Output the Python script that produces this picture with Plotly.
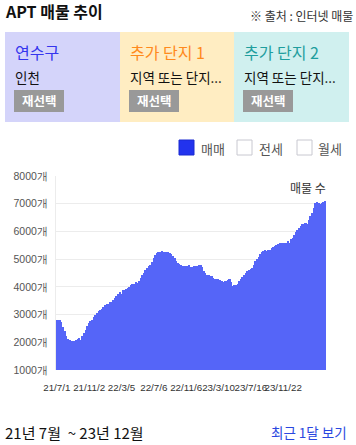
import plotly.graph_objects as go

W, H = 356, 445

values = [
    2820, 2820, 2790, 2715, 2560, 2390, 2220, 2130, 2070, 2050,
    2050, 2060, 2090, 2120, 2140, 2090, 2220, 2340, 2440, 2570,
    2690, 2775, 2795, 2895, 2995, 3055, 3115, 3150, 3185, 3260,
    3330, 3370, 3395, 3450, 3450, 3520, 3600, 3665, 3750, 3810,
    3760, 3870, 3900, 3930, 3960, 4010, 4055, 4090, 4120, 4170,
    4140, 4220, 4335, 4420, 4510, 4620, 4690, 4745, 4805, 4905,
    5025, 5140, 5220, 5250, 5265, 5285, 5270, 5265, 5265, 5240,
    5225, 5180, 5115, 5030, 4925, 4870, 4840, 4805, 4770, 4760,
    4760, 4765, 4785, 4725, 4700, 4755, 4760, 4770, 4785, 4800,
    4710, 4585, 4505, 4440, 4410, 4395, 4375, 4335, 4285, 4285,
    4270, 4250, 4225, 4190, 4205, 4215, 4250, 4300, 4190, 4030,
    4065, 4050, 4120, 4215, 4300, 4360, 4440, 4510, 4585, 4615,
    4660, 4685, 4790, 4940, 5020, 5090, 5170, 5250, 5285, 5315,
    5305, 5345, 5335, 5395, 5430, 5460, 5510, 5550, 5570, 5570,
    5570, 5570, 5570, 5640, 5600, 5720, 5760, 5860, 5975, 6060,
    6110, 6205, 6285, 6285, 6310, 6255, 6430, 6545, 6680, 6830,
    7030, 7070, 7010, 7000, 7040, 7080, 7110,
]
tick_labels = ["21/7/1", "21/11/2", "22/3/5", "22/7/6", "22/11/6",
               "23/3/10", "23/7/16", "23/11/22"]
tick_step = 20
y_ticks = [1000, 2000, 3000, 4000, 5000, 6000, 7000, 8000]
y_tick_labels = [f"{v}개" for v in y_ticks]

panel_titles = ["연수구", "추가 단지 1", "추가 단지 2"]
panel_subs = ["인천", "지역 또는 단지...", "지역 또는 단지..."]
panel_colors = ["#d4d4fa", "#ffedc2", "#d0f0ef"]
panel_title_colors = ["#3535ee", "#ff8a1c", "#1f9e9e"]
legend_labels = ["매매", "전세", "월세"]

FONT = "Noto Sans CJK KR, Noto Sans, sans-serif"
LAT = "Liberation Sans, Arial, sans-serif"
BAR = "#5565f8"

def px(x):
    return x / W

def py(y):
    return 1 - y / H

x_idx = list(range(len(values)))

fig = go.Figure(go.Bar(x=x_idx, y=values, marker=dict(color=BAR, line=dict(width=0)),
                       hoverinfo="skip"))

plot_l, plot_r, plot_t, plot_b = 56, 326, 176, 370

fig.update_layout(
    width=W, height=H,
    margin=dict(l=0, r=0, t=0, b=0, pad=0, autoexpand=False),
    paper_bgcolor="white", plot_bgcolor="white",
    showlegend=False, bargap=0,
    font=dict(family=FONT, color="#333"),
    xaxis=dict(domain=[px(plot_l), px(plot_r)], range=[-0.5, len(values) - 0.5],
               tickvals=[i * tick_step for i in range(len(tick_labels))],
               ticktext=tick_labels, showgrid=False, zeroline=False, tickangle=0,
               automargin=False,
               tickfont=dict(size=9.8, color="#333", family=LAT),
               ticks="", ticklabelstandoff=10),
    yaxis=dict(domain=[py(plot_b), py(plot_t)], range=[1000, 8000],
               tickvals=y_ticks, ticktext=y_tick_labels, automargin=False,
               showgrid=True, gridcolor="#ececec", gridwidth=1, zeroline=False,
               showline=True, linecolor="#ececec", linewidth=1,
               tickfont=dict(size=10.5, color="#555", family=LAT), ticks="", ticklabelstandoff=5),
)

shapes = []
annotations = []

# header
annotations.append(dict(text="<b>APT 매물 추이</b>", x=px(3), y=py(11), xref="paper", yref="paper",
                        xanchor="left", yanchor="middle", showarrow=False,
                        font=dict(size=16, color="#111", family=FONT)))
annotations.append(dict(text="※ 출처 : 인터넷 매물", x=px(355), y=py(16), xref="paper", yref="paper",
                        xanchor="right", yanchor="middle", showarrow=False,
                        font=dict(size=12, color="#333", family=FONT)))

# panels
panel_x = [(5, 120), (120, 234), (234, 349)]
for i, (x0, x1) in enumerate(panel_x):
    shapes.append(dict(type="rect", xref="paper", yref="paper", x0=px(x0), x1=px(x1),
                       y0=py(122), y1=py(32), fillcolor=panel_colors[i], line=dict(width=0),
                       layer="below"))
    annotations.append(dict(text=panel_titles[i], x=px(x0 + 8), y=py(52), xref="paper", yref="paper",
                            xanchor="left", yanchor="middle", showarrow=False,
                            font=dict(size=16, color=panel_title_colors[i], family=FONT)))
    annotations.append(dict(text=panel_subs[i], x=px(x0 + 8), y=py(77), xref="paper", yref="paper",
                            xanchor="left", yanchor="middle", showarrow=False,
                            font=dict(size=13.5, color="#111", family=FONT)))
    shapes.append(dict(type="rect", xref="paper", yref="paper", x0=px(x0 + 9), x1=px(x0 + 59),
                       y0=py(112), y1=py(90), fillcolor="#999999", line=dict(width=0)))
    annotations.append(dict(text="<b>재선택</b>", x=px(x0 + 34), y=py(101), xref="paper", yref="paper",
                            xanchor="center", yanchor="middle", showarrow=False,
                            font=dict(size=12.5, color="white", family=FONT)))

# legend checkboxes
box_x = [179, 237, 297]
text_x = [199, 257, 316]
for i in range(3):
    if i == 0:
        shapes.append(dict(type="rect", xref="paper", yref="paper", x0=px(box_x[i]), x1=px(box_x[i] + 15),
                           y0=py(155), y1=py(140), fillcolor="#2233ee",
                           line=dict(color="#1a2bd0", width=1)))
    else:
        shapes.append(dict(type="rect", xref="paper", yref="paper", x0=px(box_x[i]), x1=px(box_x[i] + 15),
                           y0=py(155), y1=py(140), fillcolor="white",
                           line=dict(color="#c8c8d0", width=1)))
    annotations.append(dict(text=legend_labels[i], x=px(text_x[i]), y=py(148), xref="paper", yref="paper",
                            xanchor="left", yanchor="middle", showarrow=False,
                            font=dict(size=13, color="#555", family=FONT)))

# axis title inside plot
annotations.append(dict(text="매물 수", x=px(328), y=py(187), xref="paper", yref="paper",
                        xanchor="right", yanchor="middle", showarrow=False,
                        font=dict(size=12, color="#333", family=FONT)))

# footer
annotations.append(dict(text="21년 7월  ~ 23년 12월", x=px(3), y=py(432), xref="paper", yref="paper",
                        xanchor="left", yanchor="middle", showarrow=False,
                        font=dict(size=15, color="#111", family=FONT)))
annotations.append(dict(text="최근 1달 보기", x=px(349), y=py(432), xref="paper", yref="paper",
                        xanchor="right", yanchor="middle", showarrow=False,
                        font=dict(size=13.5, color="#2a47e0", family=FONT)))

fig.update_layout(shapes=shapes, annotations=annotations)
fig.write_html("out.html", config={"displayModeBar": False},
               post_script="document.body.style.margin='0';document.body.style.padding='0';document.documentElement.style.overflow='hidden';")
